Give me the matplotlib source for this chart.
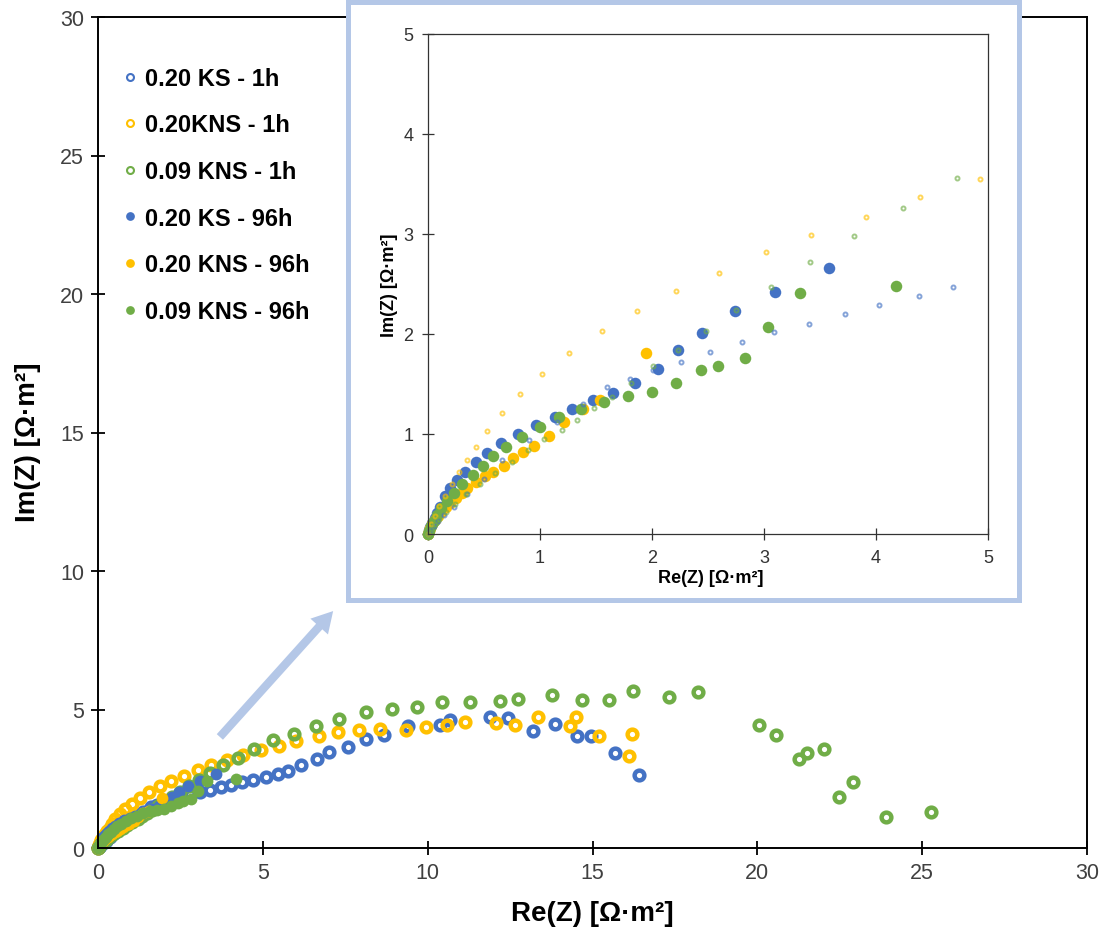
import matplotlib
matplotlib.use('Agg')
import matplotlib.pyplot as plt
import numpy as np
from matplotlib.patches import Rectangle, FancyArrowPatch, ArrowStyle
from matplotlib.lines import Line2D

plt.rcParams['font.family'] = ['Liberation Sans', 'DejaVu Sans']

# ---------------- data (Re(Z), Im(Z) in Ohm*m2) ----------------
ks_1h_re = [0, 0.02, 0.05, 0.09, 0.14, 0.23, 0.35, 0.50, 0.66, 0.90, 1.15, 1.38, 1.60, 1.80,
            2.01, 2.26, 2.52, 2.80, 3.09, 3.40, 3.72, 4.03, 4.38, 4.69, 5.09, 5.45, 5.76, 6.17,
            6.63, 7.01, 7.57, 8.14, 8.67, 9.40, 10.36, 10.67, 11.88, 12.43, 13.19, 13.85, 14.52,
            14.96, 15.69, 16.41]
ks_1h_im = [0, 0.04, 0.08, 0.13, 0.19, 0.27, 0.40, 0.55, 0.74, 0.94, 1.12, 1.30, 1.47, 1.55,
            1.64, 1.72, 1.82, 1.92, 2.02, 2.10, 2.20, 2.29, 2.38, 2.47, 2.55, 2.67, 2.79, 3.00,
            3.21, 3.48, 3.64, 3.94, 4.08, 4.39, 4.44, 4.62, 4.72, 4.68, 4.24, 4.48, 4.03,
            4.03, 3.42, 2.64]

kns20_1h_re = [0, 0.03, 0.06, 0.10, 0.15, 0.21, 0.28, 0.35, 0.43, 0.53, 0.66, 0.82, 1.02, 1.26,
               1.55, 1.87, 2.21, 2.60, 3.02, 3.42, 3.91, 4.39, 4.93, 5.48, 6.02, 6.71, 7.28, 7.92,
               8.55, 9.35, 9.96, 10.59, 11.12, 12.06, 12.64, 13.34, 14.32, 14.51, 15.21, 16.20, 16.12]
kns20_1h_im = [0, 0.10, 0.18, 0.28, 0.38, 0.50, 0.62, 0.74, 0.87, 1.03, 1.21, 1.40, 1.60, 1.81,
               2.03, 2.23, 2.43, 2.61, 2.82, 2.99, 3.17, 3.37, 3.55, 3.69, 3.87, 4.03, 4.17, 4.26,
               4.30, 4.26, 4.38, 4.44, 4.56, 4.51, 4.44, 4.72, 4.39, 4.74, 4.05, 4.12, 3.31]

kns09_1h_re = [0, 0.03, 0.06, 0.10, 0.16, 0.24, 0.34, 0.46, 0.60, 0.75, 0.89, 1.04, 1.20, 1.33,
               1.48, 1.64, 1.81, 2.01, 2.23, 2.48, 2.75, 3.06, 3.41, 3.80, 4.24, 4.72, 5.31, 5.94,
               6.61, 7.31, 8.12, 8.93, 9.68, 10.44, 11.29, 12.20, 12.74, 13.77, 14.69, 15.49,
               16.22, 17.31, 18.21, 20.06, 20.58, 21.27, 21.52, 22.03, 22.48, 22.91, 23.90, 25.26]
kns09_1h_im = [0, 0.05, 0.10, 0.15, 0.22, 0.30, 0.40, 0.50, 0.61, 0.72, 0.84, 0.95, 1.04, 1.14,
               1.26, 1.37, 1.51, 1.68, 1.84, 2.03, 2.24, 2.47, 2.72, 2.98, 3.26, 3.56, 3.91, 4.12,
               4.42, 4.66, 4.90, 5.02, 5.10, 5.28, 5.26, 5.32, 5.38, 5.52, 5.35, 5.35,
               5.68, 5.44, 5.64, 4.45, 4.09, 3.21, 3.42, 3.57, 1.85, 2.37, 1.13, 1.29]

ks_96h_re = [0, 0.01, 0.02, 0.04, 0.06, 0.08, 0.11, 0.15, 0.20, 0.26, 0.33, 0.43, 0.53, 0.65,
             0.80, 0.96, 1.13, 1.29, 1.47, 1.65, 1.85, 2.05, 2.23, 2.45, 2.74, 3.10, 3.58]
ks_96h_im = [0, 0.04, 0.07, 0.11, 0.16, 0.21, 0.27, 0.38, 0.46, 0.54, 0.62, 0.72, 0.81, 0.91,
             1.00, 1.09, 1.17, 1.25, 1.34, 1.41, 1.51, 1.65, 1.84, 2.01, 2.23, 2.42, 2.66]

kns20_96h_re = [0, 0.01, 0.02, 0.04, 0.06, 0.09, 0.12, 0.16, 0.20, 0.25, 0.30, 0.35, 0.43, 0.51,
                0.58, 0.68, 0.76, 0.85, 0.95, 1.08, 1.21, 1.38, 1.54, 1.95]
kns20_96h_im = [0, 0.03, 0.06, 0.10, 0.14, 0.18, 0.22, 0.27, 0.31, 0.36, 0.41, 0.46, 0.52, 0.58,
                0.62, 0.68, 0.76, 0.82, 0.88, 0.98, 1.12, 1.25, 1.34, 1.81]

kns09_96h_re = [0, 0.01, 0.03, 0.05, 0.08, 0.12, 0.17, 0.23, 0.30, 0.40, 0.49, 0.58, 0.70, 0.84,
                1.00, 1.17, 1.37, 1.57, 1.79, 2.00, 2.21, 2.44, 2.59, 2.83, 3.04, 3.32, 4.18]
kns09_96h_im = [0, 0.03, 0.08, 0.13, 0.19, 0.26, 0.33, 0.41, 0.50, 0.59, 0.68, 0.78, 0.87, 0.97,
                1.07, 1.17, 1.25, 1.32, 1.38, 1.42, 1.51, 1.64, 1.68, 1.76, 2.07, 2.41, 2.48]

labels = ['0.20 KS - 1h', '0.20KNS - 1h', '0.09 KNS - 1h',
          '0.20 KS - 96h', '0.20 KNS - 96h', '0.09 KNS - 96h']
main_ticks = [0, 5, 10, 15, 20, 25, 30]
inset_ticks = [0, 1, 2, 3, 4, 5]
axis_x_label = 'Re(Z) [Ω·m²]'
axis_y_label = 'Im(Z) [Ω·m²]'

BLUE, YELLOW, GREEN = '#4472C4', '#FFC000', '#70AD47'
BOX = '#B4C7E7'

series_1h = [(ks_1h_re, ks_1h_im, BLUE), (kns20_1h_re, kns20_1h_im, YELLOW),
             (kns09_1h_re, kns09_1h_im, GREEN)]
series_96h = [(ks_96h_re, ks_96h_im, BLUE), (kns20_96h_re, kns20_96h_im, YELLOW),
              (kns09_96h_re, kns09_96h_im, GREEN)]

W, H = 1101, 937
fig = plt.figure(figsize=(W / 100, H / 100), dpi=100)

# ---------------- main axes ----------------
ax = fig.add_axes([98 / W, 1 - 849 / H, (1087 - 98) / W, (849 - 18) / H])
for x, y, c in series_1h:
    ax.plot(x, y, ls='none', marker='o', ms=7.0, mfc='none', mec=c, mew=3.2, clip_on=False)
for x, y, c in series_96h:
    ax.plot(x, y, ls='none', marker='o', ms=8.5, mfc=c, mec='none', clip_on=False)

ax.set_xlim(0, 30)
ax.set_ylim(0, 30)
ax.set_xticks(main_ticks)
ax.set_yticks(main_ticks)
for s in ax.spines.values():
    s.set_linewidth(1.4)
    s.set_color('black')
ax.tick_params(direction='inout', length=10, width=1.3, labelsize=15.5,
               labelcolor='#404040', pad=5, top=False, right=False)
ax.set_xlabel(axis_x_label, fontsize=20, fontweight='bold')
ax.set_ylabel(axis_y_label, fontsize=20, fontweight='bold')
ax.xaxis.set_label_coords(0.5, -0.062)
ax.yaxis.set_label_coords(-0.058, 0.49)

handles = []
for _, _, c in series_1h:
    handles.append(Line2D([], [], ls='none', marker='o', ms=5.0, mfc='white', mec=c, mew=1.5))
for _, _, c in series_96h:
    handles.append(Line2D([], [], ls='none', marker='o', ms=6.3, mfc=c, mec='none'))
ax.legend(handles, labels, loc='upper left', bbox_to_anchor=(0.0253, 0.940),
          frameon=False, prop={'weight': 'bold', 'size': 17},
          handlelength=0.6, handletextpad=0.35, labelspacing=1.0,
          borderaxespad=0, borderpad=0)

# ---------------- inset frame & arrow ----------------
rect = Rectangle((347.5 / W, 1 - 601 / H), (1019.5 - 347.5) / W, (601 - 2.5) / H,
                 transform=fig.transFigure, facecolor='white', edgecolor=BOX,
                 lw=3.6, zorder=1)
fig.add_artist(rect)

arrow = FancyArrowPatch((218 / W, 1 - 740 / H), (335 / W, 1 - 610 / H),
                        transform=fig.transFigure,
                        arrowstyle=ArrowStyle.Simple(head_length=0.75, head_width=0.85, tail_width=0.3),
                        mutation_scale=20, color=BOX, lw=0, zorder=1.5)
fig.add_artist(arrow)

# ---------------- inset axes ----------------
axi = fig.add_axes([428 / W, 1 - 535 / H, (988 - 428) / W, (535 - 35) / H])
axi.set_zorder(2)
for x, y, c in series_96h:
    x = np.asarray(x); y = np.asarray(y)
    m = (x <= 5) & (y <= 5)
    axi.plot(x[m], y[m], ls='none', marker='o', ms=8.3, mfc=c, mec='none', clip_on=False)
for x, y, c in series_1h:
    x = np.asarray(x); y = np.asarray(y)
    m = (x <= 5) & (y <= 5)
    axi.plot(x[m], y[m], ls='none', marker='o', ms=2.9, mfc='none', mec=c, mew=1.4,
             alpha=0.65, clip_on=False)
axi.set_xlim(0, 5)
axi.set_ylim(0, 5)
axi.set_xticks(inset_ticks)
axi.set_yticks(inset_ticks)
for s in axi.spines.values():
    s.set_linewidth(0.9)
    s.set_color('#333333')
axi.tick_params(direction='inout', length=9, width=0.9, color='#333333', labelsize=13,
                labelcolor='#333333', pad=6, top=False, right=False)
axi.set_xlabel(axis_x_label, fontsize=13, fontweight='bold')
axi.set_ylabel(axis_y_label, fontsize=13, fontweight='bold')
axi.xaxis.set_label_coords(0.505, -0.07)
axi.yaxis.set_label_coords(-0.053, 0.5)

fig.savefig('out.png', dpi=100)
